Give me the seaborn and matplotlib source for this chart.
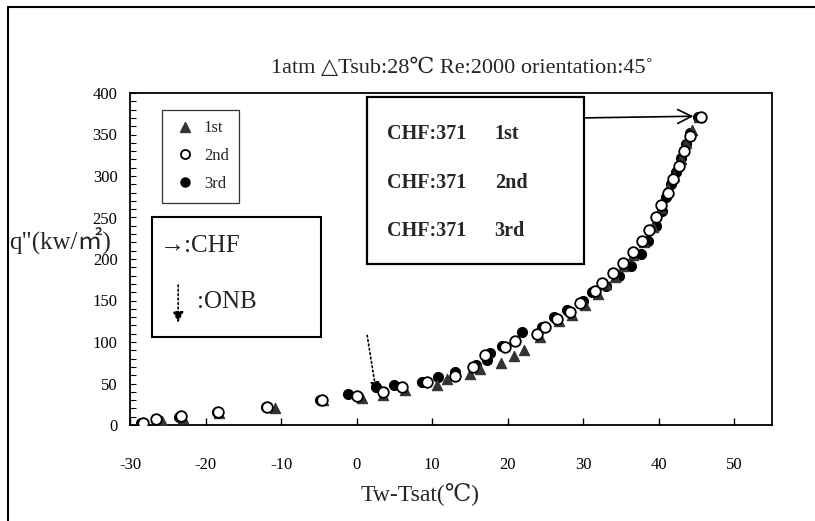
import matplotlib
matplotlib.use("Agg")
import matplotlib.pyplot as plt
from matplotlib.patches import Rectangle
from matplotlib.lines import Line2D
from matplotlib.ticker import MultipleLocator
import seaborn as sns
import pandas as pd

# ---- data ----
x_1st = [-28.4, -25.8, -23.0, -18.2, -10.8, -4.4, 0.7, 3.5, 6.4, 10.7, 12.0, 15.0, 16.4, 19.1,
         20.9, 22.2, 24.3, 26.8, 28.5, 30.2, 32.0, 33.0, 34.2, 35.3, 36.6, 38.0, 39.2, 40.3,
         41.2, 42.0, 43.0, 43.6, 44.4, 45.4]
y_1st = [0, 5, 9, 15, 21, 30, 32, 36, 42, 48, 55, 61, 67, 75, 83, 90, 106, 125, 133, 145,
         158, 170, 178, 192, 205, 220, 238, 262, 285, 300, 320, 340, 355, 371]

x_2nd = [-28.3, -26.5, -23.3, -18.3, -11.8, -4.6, 0.0, 3.5, 6.0, 9.3, 13.0, 15.4, 17.0, 19.7,
         21.0, 23.9, 25.0, 26.6, 28.2, 29.6, 31.5, 32.5, 34.0, 35.3, 36.6, 37.8, 38.7, 39.6,
         40.3, 41.2, 41.9, 42.7, 43.4, 44.2, 45.6]
y_2nd = [3, 7, 11, 16, 22, 30, 35, 40, 46, 52, 59, 70, 84, 94, 101, 110, 118, 128, 136, 147,
         162, 171, 183, 195, 208, 222, 235, 250, 265, 280, 296, 312, 330, 348, 371]

x_3rd = [-28.5, -26.5, -23.5, -18.5, -12.0, -4.8, -1.2, 2.6, 5.0, 8.6, 10.8, 13.0, 15.8, 17.3,
         17.6, 19.3, 21.9, 24.5, 26.2, 27.8, 30.0, 31.2, 33.0, 34.8, 36.3, 37.6, 38.6, 39.6,
         40.4, 41.0, 41.6, 42.3, 42.9, 43.6, 44.2, 45.2]
y_3rd = [2, 6, 10, 16, 22, 30, 37, 46, 48, 52, 58, 64, 72, 78, 87, 95, 112, 118, 130, 138,
         150, 160, 168, 180, 192, 206, 222, 240, 258, 275, 290, 305, 322, 338, 352, 371]

x_ticks = [-30, -20, -10, 0, 10, 20, 30, 40, 50]
y_ticks = [0, 50, 100, 150, 200, 250, 300, 350, 400]

chf_value = 371
onb_point = (2.6, 40)

title_text = "1atm \u25b3Tsub:28\u2103 Re:2000 orientation:45\u02da"
xlabel_text = "Tw-Tsat(\u2103)"
ylabel_text = 'q"(kw/\u33a1)'

# ---- style ----
sns.set_theme(style="white")
FONTS = ['Liberation Serif', 'DejaVu Serif', 'DejaVu Sans', 'Noto Sans CJK TC']
plt.rcParams['font.family'] = FONTS
plt.rcParams['axes.unicode_minus'] = False

fig = plt.figure(figsize=(8.15, 5.21), dpi=100)
ax = fig.add_axes([130 / 815, 1 - 425 / 521, 642 / 815, 332 / 521])

df3 = pd.DataFrame({"x": x_3rd, "y": y_3rd})
df1 = pd.DataFrame({"x": x_1st, "y": y_1st})
df2 = pd.DataFrame({"x": x_2nd, "y": y_2nd})

sns.scatterplot(data=df3, x="x", y="y", ax=ax, marker="o", s=52, color="black",
                edgecolor="black", linewidth=0.8, zorder=3)
sns.scatterplot(data=df1, x="x", y="y", ax=ax, marker="^", s=55, color="#333333",
                edgecolor="#333333", linewidth=0.8, zorder=4)
sns.scatterplot(data=df2, x="x", y="y", ax=ax, marker="o", s=58, color="white",
                edgecolor="black", linewidth=1.3, zorder=5)

ax.set_xlim(-30, 55)
ax.set_ylim(0, 400)
ax.set_xticks(x_ticks)
ax.set_yticks(y_ticks)
ax.yaxis.set_minor_locator(MultipleLocator(10))
ax.tick_params(axis="x", which="major", direction="in", length=5, width=1,
               labelsize=12, pad=23, bottom=True, colors="black")
ax.tick_params(axis="y", which="both", direction="in", length=4, width=0.8,
               labelsize=12, pad=9, left=True, colors="black")
for lab in ax.get_xticklabels() + ax.get_yticklabels():
    lab.set_family(FONTS)
for s in ax.spines.values():
    s.set_color("black")
    s.set_linewidth(1.3)
ax.set_xlabel("")
ax.set_ylabel("")

# legend box
h1 = Line2D([], [], marker="^", ls="", color="#333333", markersize=6.5)
h2 = Line2D([], [], marker="o", ls="", markerfacecolor="white", markeredgecolor="black",
            markersize=6.5, markeredgewidth=1.3)
h3 = Line2D([], [], marker="o", ls="", color="black", markersize=6.5)
leg = ax.legend([h1, h2, h3], ["1st", "2nd", "3rd"], loc="upper left",
                bbox_to_anchor=(0.05, 0.95), borderaxespad=0, frameon=True, fancybox=False,
                edgecolor="black", labelspacing=0.7, borderpad=0.65,
                handletextpad=0.35, handlelength=1.5, prop={"family": FONTS, "size": 12})
leg.get_frame().set_linewidth(0.9)
leg.set_zorder(6)

# CHF / ONB key box
ax.add_patch(Rectangle((0.034, 0.265), 0.2635, 0.3615, transform=ax.transAxes,
                       fill=True, facecolor="white", edgecolor="black", lw=1.5, zorder=6))
ax.text(0.046, 0.54, "\u2192:CHF", transform=ax.transAxes, fontsize=18,
        family=FONTS, va="center", ha="left", zorder=7)
ax.text(0.105, 0.37, ":ONB", transform=ax.transAxes, fontsize=18,
        family=FONTS, va="center", ha="left", zorder=7)
ax.annotate("", xy=(0.075, 0.30), xytext=(0.075, 0.43), xycoords="axes fraction",
            textcoords="axes fraction",
            arrowprops=dict(arrowstyle="-|>", linestyle=":", color="black", lw=1.2,
                            mutation_scale=16), zorder=7)

# CHF values box
ax.add_patch(Rectangle((0.369, 0.485), 0.338, 0.503, transform=ax.transAxes,
                       fill=True, facecolor="white", edgecolor="black", lw=1.6, zorder=6))
for i, lab in enumerate(["1st", "2nd", "3rd"]):
    yy = 0.877 - i * 0.147
    ax.text(0.400, yy, f"CHF:{chf_value}", transform=ax.transAxes, fontsize=14.5,
            fontweight="bold", family=FONTS, va="center", ha="left", zorder=7)
    ax.text(0.568, yy, lab, transform=ax.transAxes, fontsize=14.5,
            fontweight="bold", family=FONTS, va="center", ha="left", zorder=7)

# CHF arrow
ax.annotate("", xy=(44.6, chf_value + 1), xytext=(0.707, 0.925), xycoords="data",
            textcoords="axes fraction",
            arrowprops=dict(arrowstyle="->", color="black", lw=1.2, mutation_scale=25,
                            shrinkA=0, shrinkB=0), zorder=7)

# ONB arrow in the data
ax.annotate("", xy=onb_point, xytext=(1.4, 108), xycoords="data", textcoords="data",
            arrowprops=dict(arrowstyle="-|>", linestyle=":", color="black", lw=1.2,
                            mutation_scale=14, shrinkA=0, shrinkB=0), zorder=7)

# titles / labels
fig.text(462 / 815, 1 - 68 / 521, title_text, ha="center", va="center", fontsize=16,
         family=FONTS)
fig.text(420 / 815, 1 - 494 / 521, xlabel_text, ha="center", va="center", fontsize=17,
         family=FONTS)
fig.text(9 / 815, 1 - 240 / 521, ylabel_text, ha="left", va="center", fontsize=18,
         family=FONTS)

# outer frame lines (left and top only)
fig.add_artist(Line2D([8 / 815, 8 / 815], [0, 1 - 7 / 521], transform=fig.transFigure,
                      color="black", lw=1.5))
fig.add_artist(Line2D([8 / 815, 1], [1 - 7 / 521, 1 - 7 / 521], transform=fig.transFigure,
                      color="black", lw=1.5))

fig.savefig("out.png", dpi=100)
